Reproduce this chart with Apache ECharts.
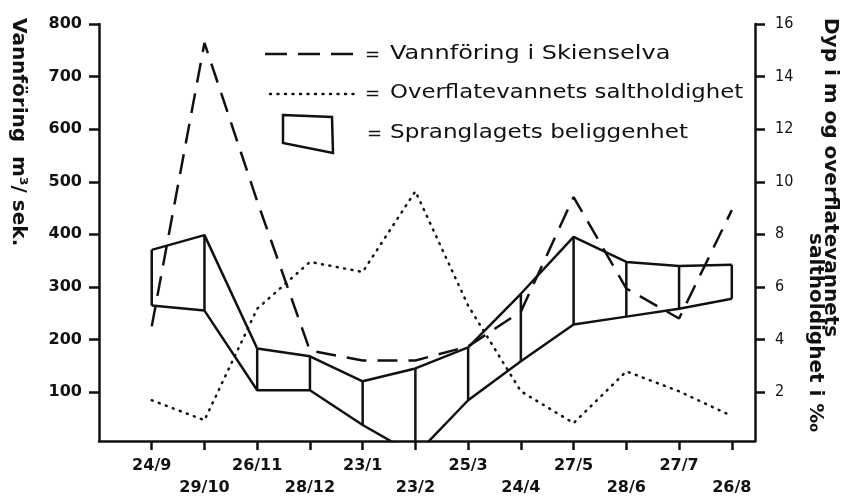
<!DOCTYPE html>
<html>
<head>
<meta charset="utf-8">
<script src="https://cdn.jsdelivr.net/npm/echarts@6/dist/echarts.min.js"></script>
<style>
  html, body { margin: 0; padding: 0; background: #fff; }
  #chart { width: 848px; height: 499px; }
</style>
</head>
<body>
<div id="chart"></div>
<script>
// datoer for målingene
const dates = ['24/9', '29/10', '26/11', '28/12', '23/1', '23/2', '25/3', '24/4', '27/5', '28/6', '27/7', '26/8'];
// vannføring i Skienselva, m3/sek (venstre akse)
const vannforing = [225, 764, 463, 179, 160, 160, 187, 253, 471, 297, 240, 446];
// overflatevannets saltholdighet (høyre akse)
const saltholdighet = [1.69, 0.93, 5.17, 6.95, 6.57, 9.64, 5.29, 2.03, 0.82, 2.79, 2.03, 1.09];
// spranglagets beliggenhet, øvre og nedre grense (høyre akse)
const spranglagOvre = [7.41, 7.97, 3.66, 3.36, 2.41, 2.9, 3.7, 5.74, 7.9, 6.95, 6.8, 6.84];
const spranglagNedre = [5.29, 5.1, 2.07, 2.07, 0.75, -0.4, 1.69, 3.17, 4.57, 4.87, 5.17, 5.55];

const leftTicks = [100, 200, 300, 400, 500, 600, 700, 800];
const rightTicks = [2, 4, 6, 8, 10, 12, 14, 16];
const dateTicks = dates.map((d, i) => i);

const ink = '#111';

let myChart = echarts.init(document.getElementById('chart'), null, {renderer: 'canvas'});

let option = {
  animation: false,
  backgroundColor: '#fff',
  grid: {
    left: 99,
    right: 93,
    top: 24,
    bottom: 56
  },
  xAxis: {
    type: 'value',
    min: -1,
    max: 11.44,
    splitLine: {show: false},
    axisLine: {onZero: false, lineStyle: {color: ink, width: 2.5}},
    axisTick: {
      length: 9,
      lineStyle: {color: ink, width: 2.5},
      customValues: dateTicks
    },
    axisLabel: {
      customValues: dateTicks,
      margin: 14,
      color: ink,
      fontFamily: 'DejaVu Sans',
      fontWeight: 'bold',
      fontSize: 16,
      lineHeight: 22,
      verticalAlign: 'top',
      formatter: function (value) {
        let label = dates[Math.round(value)];
        if (label === undefined) return '';
        return Math.round(value) % 2 === 1 ? '\n' + label : label;
      }
    }
  },
  yAxis: [
    {
      type: 'value',
      position: 'left',
      min: 7,
      max: 800,
      splitLine: {show: false},
      axisLine: {show: true, onZero: false, lineStyle: {color: ink, width: 2.5}},
      axisTick: {
        show: true,
        length: 10,
        lineStyle: {color: ink, width: 2.5},
        customValues: leftTicks
      },
      axisLabel: {
        customValues: leftTicks,
        margin: 17,
        color: ink,
        fontFamily: 'DejaVu Sans',
        fontWeight: 'bold',
        fontSize: 16
      }
    },
    {
      type: 'value',
      position: 'right',
      min: 0.14,
      max: 16,
      splitLine: {show: false},
      axisLine: {show: true, onZero: false, lineStyle: {color: ink, width: 2.5}},
      axisTick: {
        show: true,
        length: 10,
        lineStyle: {color: ink, width: 2.5},
        customValues: rightTicks
      },
      axisLabel: {
        customValues: rightTicks,
        margin: 20,
        color: ink,
        fontFamily: 'DejaVu Sans Condensed',
        fontSize: 16
      }
    }
  ],
  graphic: [
    // tegnforklaring
    {type: 'line', shape: {x1: 265, y1: 54, x2: 354, y2: 54},
      style: {stroke: ink, lineWidth: 2.5, lineDash: [22, 11]}},
    {type: 'line', shape: {x1: 270, y1: 94, x2: 354, y2: 94},
      style: {stroke: ink, lineWidth: 2.5, lineDash: [1, 6.5], lineCap: 'round'}},
    {type: 'polygon', shape: {points: [[283, 115], [332, 117], [333, 153], [283, 143]]},
      style: {fill: 'none', stroke: ink, lineWidth: 2.5}},
    {type: 'text', x: 365, y: 55, style: {text: '=', fill: ink, font: '18px DejaVu Sans', textVerticalAlign: 'middle'}},
    {type: 'text', x: 365, y: 94, style: {text: '=', fill: ink, font: '18px DejaVu Sans', textVerticalAlign: 'middle'}},
    {type: 'text', x: 367, y: 134, style: {text: '=', fill: ink, font: '18px DejaVu Sans', textVerticalAlign: 'middle'}},
    {type: 'text', x: 390, y: 54, scaleX: 1.2,
      style: {text: 'Vannföring i Skienselva', fill: ink, font: '20px DejaVu Sans', textVerticalAlign: 'middle'}},
    {type: 'text', x: 390, y: 93, scaleX: 1.14,
      style: {text: 'Overflatevannets saltholdighet', fill: ink, font: '20px DejaVu Sans', textVerticalAlign: 'middle'}},
    {type: 'text', x: 390, y: 133, scaleX: 1.155,
      style: {text: 'Spranglagets beliggenhet', fill: ink, font: '20px DejaVu Sans', textVerticalAlign: 'middle'}},
    // aksetitler
    {type: 'text', x: 18, y: 18, rotation: -Math.PI / 2,
      style: {text: 'Vannföring  m³/ sek.', fill: ink, font: 'bold 20px DejaVu Sans', textVerticalAlign: 'middle'}},
    {type: 'text', x: 830, y: 18, rotation: -Math.PI / 2,
      style: {text: 'Dyp i m og overflatevannets', fill: ink, font: 'bold 20px DejaVu Sans', textVerticalAlign: 'middle'}},
    {type: 'text', x: 815, y: 233, rotation: -Math.PI / 2,
      style: {text: 'saltholdighet i ‰', fill: ink, font: 'bold 20px DejaVu Sans', textVerticalAlign: 'middle'}}
  ],
  series: [
    {
      name: 'Vannföring i Skienselva',
      type: 'line',
      yAxisIndex: 0,
      symbol: 'none',
      lineStyle: {color: ink, width: 2.5, type: [20, 11]},
      data: vannforing.map((v, i) => [i, v])
    },
    {
      name: 'Overflatevannets saltholdighet',
      type: 'line',
      yAxisIndex: 1,
      symbol: 'none',
      lineStyle: {color: ink, width: 2.5, type: [1, 6.5], cap: 'round'},
      data: saltholdighet.map((v, i) => [i, v])
    },
    {
      name: 'Spranglagets beliggenhet',
      type: 'line',
      yAxisIndex: 1,
      symbol: 'none',
      lineStyle: {color: ink, width: 2.5},
      data: spranglagOvre.map((v, i) => [i, v])
    },
    {
      name: 'Spranglagets beliggenhet nedre',
      type: 'line',
      yAxisIndex: 1,
      symbol: 'none',
      lineStyle: {color: ink, width: 2.5},
      data: spranglagNedre.map((v, i) => [i, v])
    },
    {
      name: 'Spranglag loddlinjer',
      type: 'custom',
      yAxisIndex: 1,
      clip: true,
      encode: {x: 0, y: [1, 2]},
      renderItem: function (params, api) {
        let p1 = api.coord([api.value(0), api.value(1)]);
        let p2 = api.coord([api.value(0), api.value(2)]);
        return {
          type: 'line',
          shape: {x1: p1[0], y1: p1[1], x2: p2[0], y2: p2[1]},
          style: {stroke: ink, lineWidth: 2.5}
        };
      },
      data: spranglagOvre.map((v, i) => [i, v, spranglagNedre[i]])
    }
  ]
};

option && myChart.setOption(option);
</script>
</body>
</html>
